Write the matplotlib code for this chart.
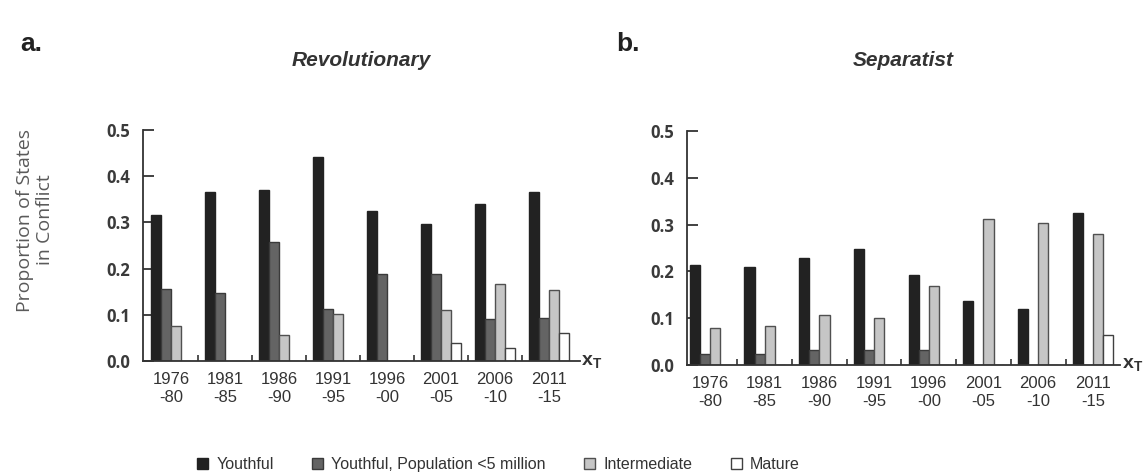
import matplotlib
matplotlib.use("Agg")
import matplotlib.pyplot as plt
import numpy as np
from matplotlib.patches import Patch
from matplotlib.ticker import FixedLocator

periods = ["1976\n-80", "1981\n-85", "1986\n-90", "1991\n-95", "1996\n-00", "2001\n-05", "2006\n-10", "2011\n-15"]
series_names = ["Youthful", "Youthful, Population <5 million", "Intermediate", "Mature"]

rev_youthful = [0.316, 0.366, 0.371, 0.442, 0.325, 0.297, 0.341, 0.366]
rev_youthful_small = [0.155, 0.148, 0.258, 0.113, 0.188, 0.188, 0.090, 0.093]
rev_intermediate = [0.076, 0.0, 0.056, 0.101, 0.0, 0.110, 0.167, 0.154]
rev_mature = [0.0, 0.0, 0.0, 0.0, 0.0, 0.038, 0.029, 0.061]

sep_youthful = [0.214, 0.210, 0.228, 0.247, 0.192, 0.137, 0.119, 0.325]
sep_youthful_small = [0.023, 0.023, 0.031, 0.031, 0.032, 0.0, 0.0, 0.0]
sep_intermediate = [0.078, 0.084, 0.107, 0.101, 0.169, 0.312, 0.303, 0.280]
sep_mature = [0.0, 0.0, 0.0, 0.0, 0.0, 0.0, 0.0, 0.064]

yticks = [0.0, 0.1, 0.2, 0.3, 0.4, 0.5]
ytick_labels = ["0.0", "0.1", "0.2", "0.3", "0.4", "0.5"]

faces = ["#222222", "#646464", "#c6c6c6", "#ffffff"]
edges = ["#222222", "#3a3a3a", "#505050", "#404040"]

plt.rcParams["font.family"] = ["Liberation Sans", "DejaVu Sans"]

fig = plt.figure(figsize=(11.46, 4.75), dpi=100)
ax1 = fig.add_axes([0.1248, 0.240, 0.381, 0.486])
ax2 = fig.add_axes([0.5995, 0.2316, 0.378, 0.4926])

w = 0.185
x = np.arange(len(periods))

def draw(ax, data, xlim):
    for i, vals in enumerate(data):
        ax.bar(x + (i - 1.5) * w, vals, width=w, color=faces[i], edgecolor=edges[i], linewidth=1.0, zorder=2)
    ax.set_xlim(*xlim)
    ax.set_ylim(0, 0.5)
    for s in ["top", "right"]:
        ax.spines[s].set_visible(False)
    for s in ["left", "bottom"]:
        ax.spines[s].set_color("#333333")
        ax.spines[s].set_linewidth(1.3)
    ax.set_yticks(yticks)
    ax.set_yticklabels(ytick_labels, fontsize=12, fontweight="bold", color="#3a3a3a", family=["Open Sans", "DejaVu Sans"])
    ax.tick_params(axis="y", direction="in", length=8, width=1.3, color="#333333", pad=9)
    ax.set_xticks(x)
    ax.set_xticklabels(periods, fontsize=12, color="#333333", linespacing=1.25)
    ax.tick_params(axis="x", which="major", length=0, pad=8)
    ax.xaxis.set_minor_locator(FixedLocator(x[:-1] + 0.5))
    ax.tick_params(axis="x", which="minor", direction="in", length=4, width=1.2, color="#333333")
    ax.text(1.003, 0.0, r"$\mathregular{x_T}$", transform=ax.transAxes, fontsize=14,
            fontweight="bold", color="#333333", ha="left", va="center")

draw(ax1, [rev_youthful, rev_youthful_small, rev_intermediate, rev_mature], (-0.52, 7.57))
draw(ax2, [sep_youthful, sep_youthful_small, sep_intermediate, sep_mature], (-0.42, 7.5))

fig.text(361 / 1146, 1 - 60 / 475, "Revolutionary", fontsize=15, fontweight="bold", fontstyle="italic",
         ha="center", va="center", color="#333333")
fig.text(903 / 1146, 1 - 60 / 475, "Separatist", fontsize=15, fontweight="bold", fontstyle="italic",
         ha="center", va="center", color="#333333")
fig.text(20 / 1146, 1 - 44 / 475, "a.", fontsize=19, fontweight="bold", ha="left", va="center",
         color="#222222")
fig.text(616 / 1146, 1 - 44 / 475, "b.", fontsize=19, fontweight="bold", ha="left", va="center",
         color="#222222")

fig.text(35 / 1146, 1 - 220 / 475, "Proportion of States\nin Conflict", rotation=90, fontsize=14,
         ha="center", va="center", color="#5a5a5a", linespacing=1.1, family=["Open Sans", "DejaVu Sans"])

handles = [Patch(facecolor=faces[i], edgecolor=edges[i], linewidth=1.0) for i in range(4)]
fig.legend(handles, series_names, loc="center", bbox_to_anchor=(0.435, 0.022), ncol=4, frameon=False,
           handlelength=0.7, handleheight=0.7, handletextpad=0.5, columnspacing=2.4,
           labelcolor="#333333", prop={"size": 11.5})

fig.savefig("out.png", dpi=100)
